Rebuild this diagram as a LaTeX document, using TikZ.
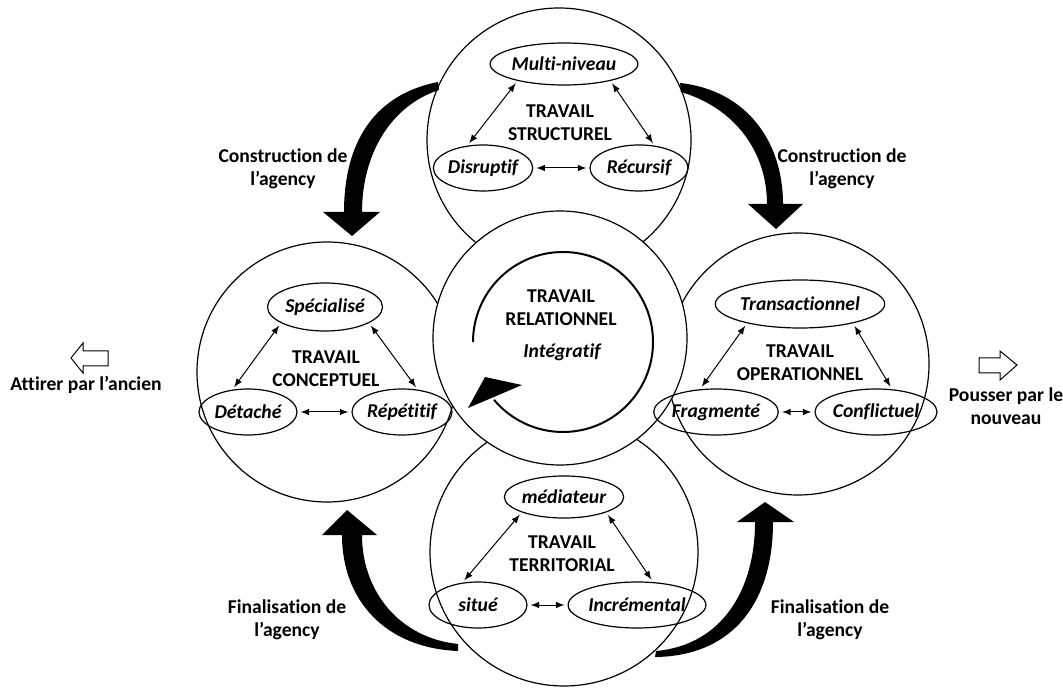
\documentclass[tikz,border=0pt]{standalone}
\usepackage{fontspec}
\setmainfont[Ligatures=NoCommon]{Carlito}
\usetikzlibrary{arrows,shapes.geometric}

\newcommand{\lbl}{\fontsize{9.8}{11.5}\selectfont}
\tikzset{
  ring/.style={circle, draw, fill=white, line width=0.6pt, inner sep=0pt},
  trait/.style={ellipse, draw, line width=0.6pt, inner sep=0pt,
    minimum height=23pt, font=\lbl\bfseries\itshape},
  titre/.style={align=center, font=\lbl\bfseries},
  link/.style={<->, >=latex, line width=0.5pt, shorten <=1.5pt, shorten >=1.5pt},
}

\begin{document}
\begin{tikzpicture}[x=0.5pt,y=-0.5pt]
    \useasboundingbox (0,0) rectangle (1063,688);
    % cercles
    \node[ring, minimum size=132pt] (struct) at (559,140) {};
    \node[ring, minimum size=130pt] (concept) at (327,372) {};
    \node[ring, minimum size=131pt] (operat) at (798,364) {};
    \node[ring, minimum size=134pt] (territ) at (564,552) {};
    \node[ring, minimum size=127pt] (relat) at (560,338) {};

    % travail structurel
    \node[titre] at (560,123) {TRAVAIL\\STRUCTUREL};
    \node[trait, minimum width=58.5pt, minimum height=21pt] (multi) at (564,64) {Multi-niveau};
    \node[trait, minimum width=48.5pt] (disr) at (483,168) {Disruptif};
    \node[trait, minimum width=49pt] (recur) at (639,168) {Récursif};
    \draw[link] (multi.200) -- (disr.125);
    \draw[link] (multi.340) -- (recur.55);
    \draw[link] (disr) -- (recur);

    % travail conceptuel
    \node[titre] at (326,369) {TRAVAIL\\CONCEPTUEL};
    \node[trait, minimum width=57.5pt, minimum height=24pt] (spec) at (325,307) {Spécialisé};
    \node[trait, minimum width=49pt] (detach) at (248,412) {Détaché};
    \node[trait, minimum width=50pt] (repet) at (402,412) {Répétitif};
    \draw[link] (spec.200) -- (detach.125);
    \draw[link] (spec.340) -- (repet.55);
    \draw[link] (detach) -- (repet);

    % travail operationnel
    \node[titre] at (800,363) {TRAVAIL\\OPERATIONNEL};
    \node[trait, minimum width=62.5pt, minimum height=24pt] (trans) at (800,304) {Transactionnel};
    \node[trait, minimum width=49pt] (frag) at (716,412) {Fragmenté};
    \node[trait, minimum width=52pt] (confl) at (876,412) {Conflictuel};
    \draw[link] (trans.200) -- (frag.125);
    \draw[link] (trans.340) -- (confl.55);
    \draw[link] (frag) -- (confl);

    % travail territorial
    \node[titre] at (562,554) {TRAVAIL\\TERRITORIAL};
    \node[trait, minimum width=52pt, minimum height=21pt] (medi) at (564,497) {médiateur};
    \node[trait, minimum width=49pt] (situe) at (478,605) {situé};
    \node[trait, minimum width=55pt] (incr) at (637,605) {Incrémental};
    \draw[link] (medi.200) -- (situe.125);
    \draw[link] (medi.340) -- (incr.55);
    \draw[link] (situe) -- (incr);

    % travail relationnel
    \node[titre] at (561,308) {TRAVAIL\\RELATIONNEL};
    \node[font=\lbl\bfseries\itshape] (integr) at (562,352) {Intégratif};
    \draw[line width=1pt] (563,342) ++(180:90) arc[start angle=180, end angle=500, radius=90];
    \fill (485,377) -- (522,385) -- (468,408) -- cycle;

    % fleches construction / finalisation
    \fill (438,82) .. controls (372,95) and (344,145) .. (344,212) -- (323,212)
      -- (352,236) -- (380,212) -- (362,212) .. controls (362,155) and (390,106) .. (439,90) -- cycle;
    \fill (680,83) .. controls (745,90) and (783,140) .. (783,204) -- (803,204)
      -- (776,229) -- (748,204) -- (767,204) .. controls (767,152) and (735,108) .. (681,92) -- cycle;
    \fill (458,651) .. controls (385,648) and (342,600) .. (342,535) -- (322,535)
      -- (347,510) -- (377,535) -- (362,535) .. controls (362,592) and (400,638) .. (458,644) -- cycle;
    \fill (655,657) .. controls (735,656) and (773,600) .. (773,522) -- (794,522)
      -- (765,502) -- (737,522) -- (755,522) .. controls (755,590) and (722,645) .. (656,651) -- cycle;
    \node[titre] (constrg) at (283,169) {Construction de\\l’agency};
    \node[titre] (constrd) at (842,169) {Construction de\\l’agency};
    \node[titre] (finalg) at (287,620) {Finalisation de\\l’agency};
    \node[titre] (finald) at (830,620) {Finalisation de\\l’agency};

    % ancien / nouveau
    \draw[line width=0.5pt] (71,358) -- (83,343) -- (83,351) -- (108,351) -- (108,366)
      -- (83,366) -- (83,373) -- cycle;
    \node[titre] (attirer) at (86,385) {Attirer par l’ancien};
    \draw[line width=0.5pt] (979,358) -- (1000,358) -- (1000,351) -- (1017,365)
      -- (1000,380) -- (1000,373) -- (979,373) -- cycle;
    \node[titre] (pousser) at (1006,406) {Pousser par le\\nouveau};
\end{tikzpicture}
\end{document}
